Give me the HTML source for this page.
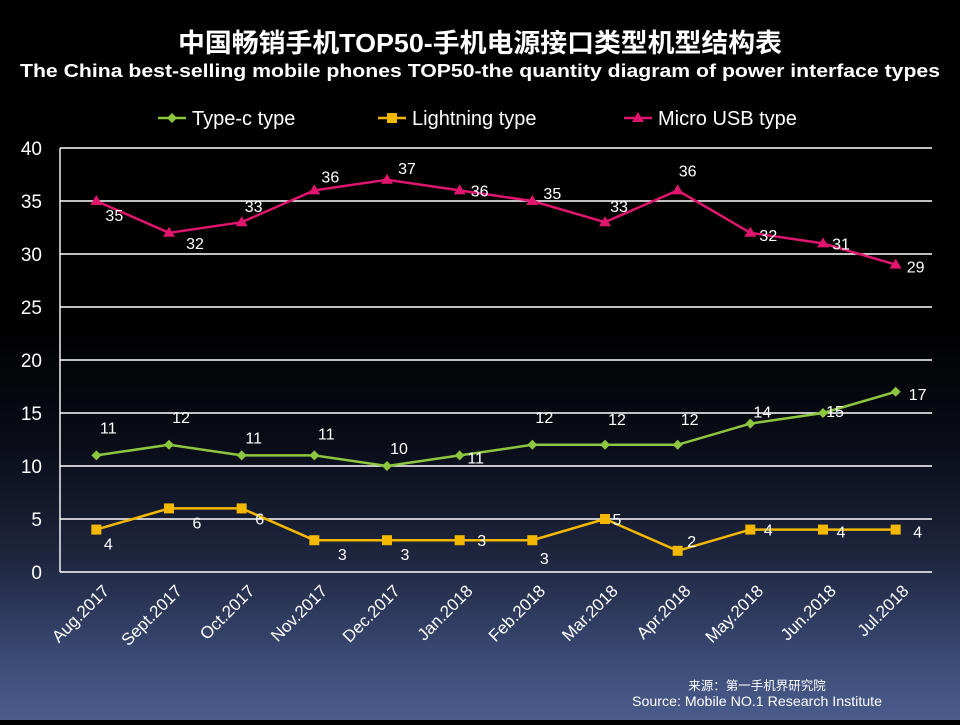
<!DOCTYPE html>
<html><head><meta charset="utf-8"><style>
html,body{margin:0;padding:0}
body{width:960px;height:720px;overflow:hidden;background:linear-gradient(to bottom,#000 0%,#000 45%,#0a0d18 62%,#1f2740 78%,#3c4c78 92%,#4a5c8c 100%);font-family:"Liberation Sans","Noto Sans CJK SC",sans-serif}
</style></head><body>
<svg id="chart" width="960" height="720" xmlns="http://www.w3.org/2000/svg">
<text x="480" y="52" text-anchor="middle" fill="#fff" font-size="26" font-weight="bold" textLength="604" lengthAdjust="spacingAndGlyphs" font-family="Liberation Sans,Noto Sans CJK SC,sans-serif">中国畅销手机TOP50-手机电源接口类型机型结构表</text>
<text x="480" y="77" text-anchor="middle" fill="#fff" font-size="18.5" font-weight="bold" textLength="920" lengthAdjust="spacingAndGlyphs">The China best-selling mobile phones TOP50-the quantity diagram of power interface types</text>
<g id="legend"></g>
<g id="grid"></g><g id="series"></g><g id="axes"></g>
<text x="757" y="690" text-anchor="middle" fill="#fff" font-size="12.5">来源：第一手机界研究院</text>
<text x="757" y="706" text-anchor="middle" fill="#fff" font-size="14" textLength="250" lengthAdjust="spacingAndGlyphs">Source: Mobile NO.1 Research Institute</text>
</svg>
<script>
const categories=["Aug.2017","Sept.2017","Oct.2017","Nov.2017","Dec.2017","Jan.2018","Feb.2018","Mar.2018","Apr.2018","May.2018","Jun.2018","Jul.2018"];
const typeC=[11,12,11,11,10,11,12,12,12,14,15,17];
const lightning=[4,6,6,3,3,3,3,5,2,4,4,4];
const microUsb=[35,32,33,36,37,36,35,33,36,32,31,29];
const yTicks=[0,5,10,15,20,25,30,35,40];
const seriesNames=["Type-c type","Lightning type","Micro USB type"];
const NS="http://www.w3.org/2000/svg";
const L=60,R=932,T=148,B=572;
const x=i=>L+(R-L)/categories.length*(i+0.5);
const y=v=>B-(B-T)*v/40;
function mk(tag,attrs,parent,txt){const e=document.createElementNS(NS,tag);for(const k in attrs)e.setAttribute(k,attrs[k]);if(txt!==undefined)e.textContent=txt;parent.appendChild(e);return e;}
const grid=document.getElementById('grid'),axes=document.getElementById('axes'),ser=document.getElementById('series'),leg=document.getElementById('legend');
yTicks.forEach(t=>{
 const g=mk('line',{x1:L,x2:R,y1:y(t),y2:y(t),stroke:'#fff','stroke-width':1.4},grid);
 
 
 const tl=mk('text',{x:42,y:y(t)+7,'text-anchor':'end',fill:'#fff','font-size':19},axes,t);
 
 
});
const ax=mk('line',{x1:L,x2:L,y1:T,y2:B,stroke:'#fff','stroke-width':1.4},axes);


categories.forEach((c,i)=>{
 const px=x(i)+14,py=592;
 const t=mk('text',{x:px,y:py,'text-anchor':'end',fill:'#fff','font-size':17,transform:`rotate(-45 ${px} ${py})`},axes,c);
 
 
});
const colors=["#8dc63f","#f5b800","#e0156e"];
const datas=[typeC,lightning,microUsb];
const offs=[[[12,-22],[12,-22],[12,-12],[12,-16],[12,-12],[16,8],[12,-22],[12,-20],[12,-20],[12,-6],[12,4],[22,8]],
 [[12,20],[28,20],[18,16],[28,20],[18,20],[22,6],[12,24],[12,6],[14,-4],[18,6],[18,8],[22,8]],
 [[18,20],[26,16],[12,-10],[16,-8],[20,-6],[20,6],[20,-2],[14,-10],[10,-14],[18,8],[18,6],[20,8]]];
function marker(k,cx,cy,c,parent){
 if(k===0)return mk('polygon',{points:`${cx},${cy-5} ${cx+5},${cy} ${cx},${cy+5} ${cx-5},${cy}`,fill:c},parent);
 if(k===1)return mk('rect',{x:cx-5,y:cy-5,width:10,height:10,fill:c},parent);
 return mk('polygon',{points:`${cx},${cy-6} ${cx+6},${cy+4} ${cx-6},${cy+4}`,fill:c},parent);
}
datas.forEach((d,k)=>{
 const pl=mk('polyline',{points:d.map((v,i)=>x(i)+','+y(v)).join(' '),fill:'none',stroke:colors[k],'stroke-width':2.5},ser);
 
 
 d.forEach((v,i)=>{
  const m=marker(k,x(i),y(v),colors[k],ser);
  
  
  const o=offs[k][i];
  const lb=mk('text',{x:x(i)+o[0],y:y(v)+o[1],'text-anchor':'middle',fill:'#fff','font-size':16},ser,v);
  
  
 });
});
const lx=[158,378,624];
seriesNames.forEach((n,k)=>{
 const g=mk('g',{},leg);
 
 
 mk('line',{x1:lx[k],x2:lx[k]+28,y1:118,y2:118,stroke:colors[k],'stroke-width':2.5},g);
 marker(k,lx[k]+14,118,colors[k],g);
 mk('text',{x:lx[k]+34,y:125,fill:'#fff','font-size':20},g,n);
});
</script>
</body></html>
